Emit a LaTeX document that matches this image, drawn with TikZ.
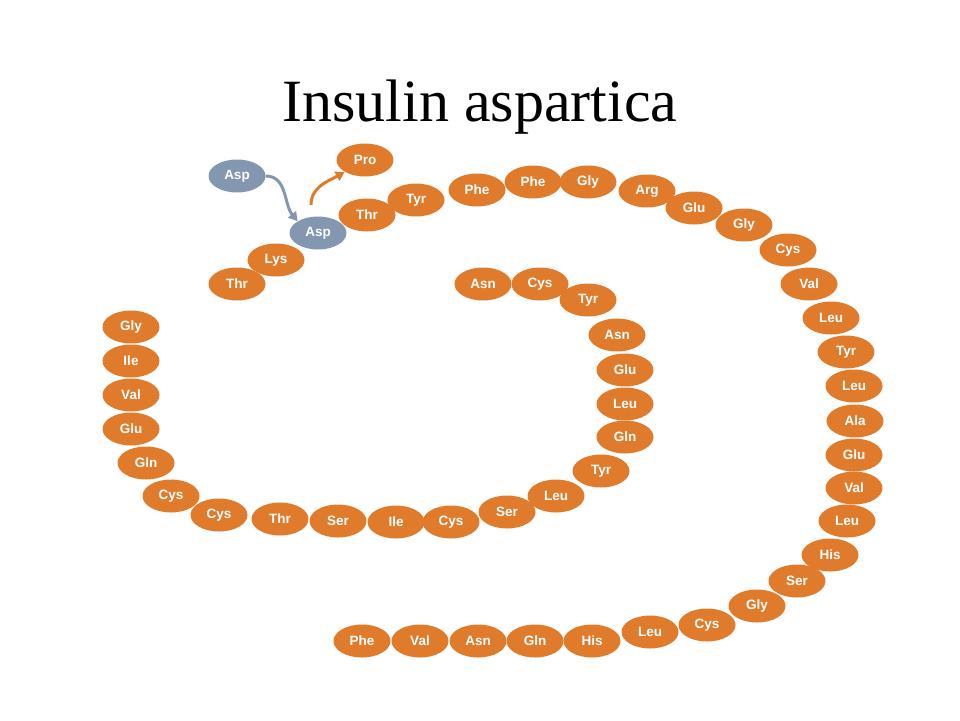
\documentclass[tikz,border=0pt]{standalone}
\usepackage{fontspec}
\setmainfont{Liberation Serif}
\newfontfamily\lab{Liberation Sans}
\usetikzlibrary{shapes.geometric,arrows.meta}
\definecolor{orng}{HTML}{E07B2C}
\definecolor{gblue}{HTML}{8497B0}
\tikzset{aa/.style={ellipse,fill=orng,minimum width=57pt,minimum height=33pt,inner sep=0pt,text=white,font=\lab\bfseries\fontsize{13.5}{13.5}\selectfont},
 ga/.style={aa,fill=gblue},
 arr/.style={line width=3pt,-{Triangle[length=9pt,width=10pt]}}}
\begin{document}
\begin{tikzpicture}[x=1pt,y=-1pt]
\useasboundingbox (0,0) rectangle (960,720);
\node at (480,107) {\fontsize{60}{60}\selectfont Insulin aspartica};
\foreach \n/\x/\y/\t in {a1/365/160/Pro,a2/533/182/Phe,a3/588/182/Gly,a4/647/191/Arg,a5/416/200/Tyr,a6/477/190/Phe,a7/694/208/Glu,a8/367/215/Thr,a9/744/225/Gly,a10/788/250/Cys,a11/276/260/Lys,a12/237/284/Thr,a13/483/284/Asn,a14/540/284/Cys,a15/809/284/Val,a16/588/300/Tyr,a17/831/318/Leu,a18/131/327/Gly,a19/617/335/Asn,a20/846/352/Tyr,a21/131/361/Ile,a22/625/370/Glu,a23/854/386/Leu,a24/131/395/Val,a25/625/404/Leu,a26/855/421/Ala,a27/131/429/Glu,a28/625/437/Gln,a29/854/455/Glu,a30/146/463/Gln,a31/601/471/Tyr,a32/854/488/Val,a33/171/496/Cys,a34/556/496/Leu,a35/507/512/Ser,a36/219/515/Cys,a37/280/519/Thr,a38/338/521/Ser,a39/396/522/Ile,a40/451/522/Cys,a41/847/521/Leu,a42/830/555/His,a43/797/581/Ser,a44/757/606/Gly,a45/707/625/Cys,a46/650/632/Leu,a47/362/641/Phe,a48/420/641/Val,a49/478/641/Asn,a50/535/641/Gln,a51/592/641/His}
  \node[aa] (\n) at (\x,\y) {\t};
\node[ga] (g1) at (237,176) {Asp};
\node[ga] (g2) at (318,233) {Asp};
\draw[gblue,arr] (g1.east) to[out=0,in=130] (g2.north west);
\coordinate (o1) at (311,205);
\draw[orng,arr] (o1) to[out=90,in=210] (a1.south west);
\end{tikzpicture}
\end{document}
